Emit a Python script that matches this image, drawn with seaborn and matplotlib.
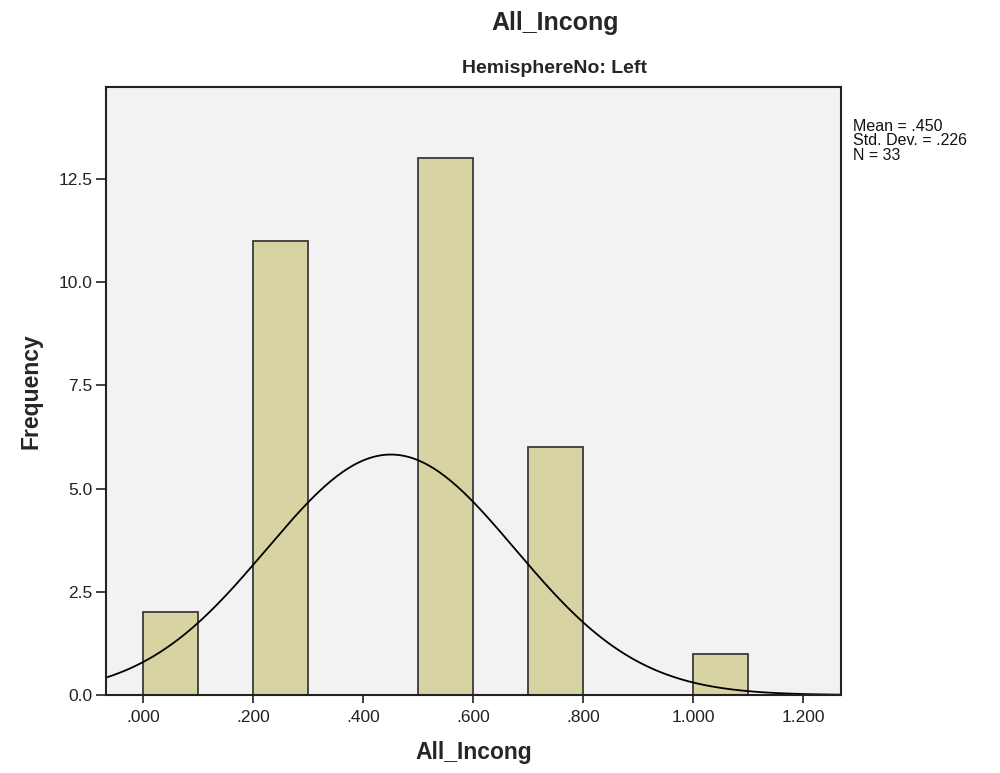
import numpy as np
import matplotlib
matplotlib.use("Agg")
import matplotlib.pyplot as plt
import seaborn as sns

# Data
bin_edges = [0.0, 0.1, 0.2, 0.3, 0.4, 0.5, 0.6, 0.7, 0.8, 0.9, 1.0, 1.1]
bin_left = [0.0, 0.1, 0.2, 0.3, 0.4, 0.5, 0.6, 0.7, 0.8, 0.9, 1.0]
counts = [2, 0, 11, 0, 0, 13, 0, 6, 0, 0, 1]
mean_val = 0.450
sd_val = 0.226
n_val = 33
x_ticks = [0.0, 0.2, 0.4, 0.6, 0.8, 1.0, 1.2]
x_tick_labels = [".000", ".200", ".400", ".600", ".800", "1.000", "1.200"]
y_ticks = [0.0, 2.5, 5.0, 7.5, 10.0, 12.5]
y_tick_labels = ["0.0", "2.5", "5.0", "7.5", "10.0", "12.5"]
stats_lines = ["Mean = .450", "Std. Dev. = .226", "N = 33"]

sns.set_style("ticks")
plt.rcParams['font.family'] = ['Liberation Sans', 'DejaVu Sans']

fig = plt.figure(figsize=(10, 7.73), dpi=100)
ax = fig.add_axes([0.106, 0.1009, 0.735, 0.7866])
ax.set_facecolor("#F2F2F2")

sns.histplot(x=bin_left, weights=counts, bins=bin_edges, ax=ax,
             color="#D8D3A3", edgecolor="#3a3a3a", linewidth=1.3, alpha=1.0)

# Normal curve scaled to counts
xs = np.linspace(-0.1, 1.3, 400)
bw = 0.1
ys = n_val * bw / (sd_val * np.sqrt(2 * np.pi)) * np.exp(-0.5 * ((xs - mean_val) / sd_val) ** 2)
ax.plot(xs, ys, color="black", linewidth=1.3)

ax.set_xlim(-0.068, 1.2685)
ax.set_ylim(0, 14.73)
ax.set_xticks(x_ticks)
ax.set_xticklabels(x_tick_labels)
ax.set_yticks(y_ticks)
ax.set_yticklabels(y_tick_labels)
ax.tick_params(axis='both', direction='out', width=1.3, color="#333333",
               labelsize=12.5, labelcolor="#222222")
ax.tick_params(axis='y', length=7.5, pad=2)
ax.tick_params(axis='x', length=5.5, pad=5)
for s in ax.spines.values():
    s.set_visible(True)
    s.set_color("#222222")
    s.set_linewidth(1.5)

ax.set_xlabel("All_Incong", fontsize=16.5, fontweight='bold', labelpad=12)
ax.set_ylabel("Frequency", fontsize=16.5, fontweight='bold', labelpad=12)

fig.text(0.555, 0.970, "All_Incong", ha='center', va='center', fontsize=18, fontweight='bold')
fig.text(0.555, 0.912, "HemisphereNo: Left", ha='center', va='center', fontsize=14, fontweight='bold')
fig.text(0.853, 1 - 119 / 773, "\n".join(stats_lines), ha='left', va='top',
         fontsize=11.5, linespacing=0.95, color="#111111")

fig.savefig("out.png", dpi=100)
